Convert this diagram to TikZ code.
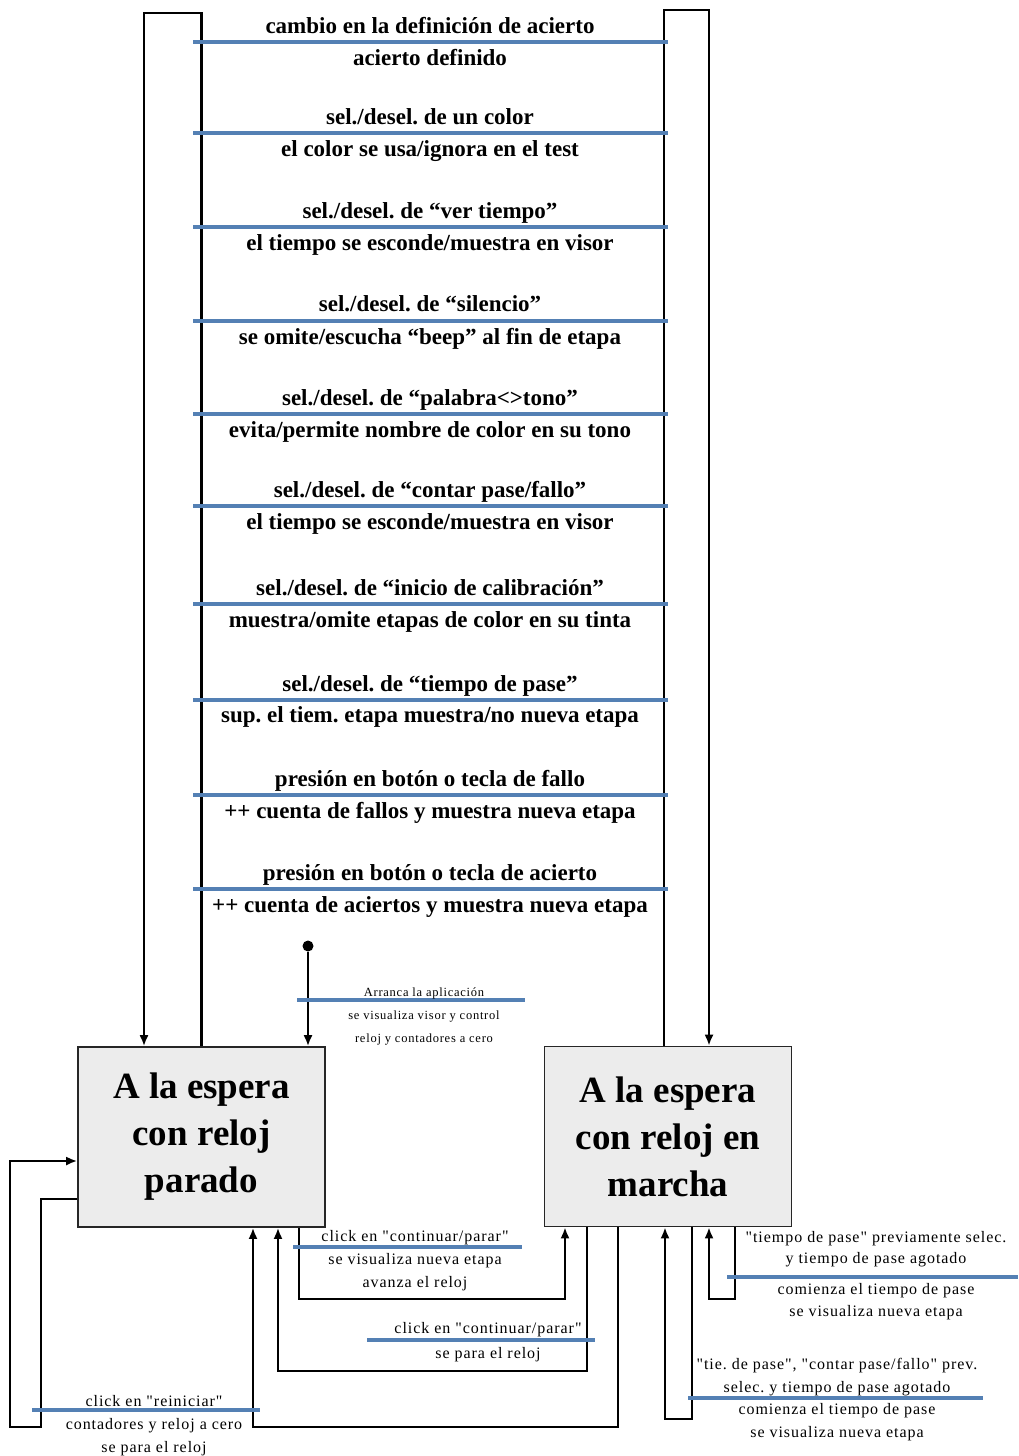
\documentclass[tikz,border=0pt]{standalone}
\usepackage{fontspec}
\setmainfont{Liberation Serif}
\newfontfamily\notafont[LetterSpace=6]{Liberation Serif}
\usetikzlibrary{arrows.meta}
\definecolor{sepblue}{RGB}{84,128,180}
\frenchspacing

\begin{document}
\begin{tikzpicture}[
        x=1pt, y=-1pt, % pixel grid of the original
        estado/.style={rectangle, draw=black!85, line width=1.6pt, fill=gray!15, minimum width=247pt, minimum height=180pt, align=center, font=\fontsize{37}{47}\selectfont\bfseries},
        evento/.style={font=\fontsize{23}{27}\selectfont\bfseries, inner sep=0pt, text height=0.7em, text depth=0.2em},
        nota/.style={align=center, inner sep=0pt, font=\notafont\fontsize{16}{23}\selectfont},
        flecha/.style={draw=black, line width=2.5pt, -{Latex[length=11pt, width=9pt]}},
        sep/.style={draw=sepblue, line width=3.2pt},
        inicio/.style={circle, fill=black, inner sep=0pt, minimum size=11pt}
    ]
    \useasboundingbox (0,0) rectangle (1018,1456);

    % States
    \node[estado] (parado) at (201.5,1137) {A la espera\\con reloj\\parado};
    \node[estado] (marcha) at (668,1136.5) {A la espera\\con reloj en\\marcha};

    % Self loops on top of both states
    \draw[flecha] (parado.north) |- (144,13) -- ([xshift=-57.5pt]parado.north);
    \draw[flecha] ([xshift=-4pt]marcha.north) |- (709,10) -- ([xshift=41pt]marcha.north);

    % Transitions of the top loops
    \node[evento] (ev1) at (430,31) {cambio en la definición de acierto};
    \draw[sep] (193,42) -- (668,42);
    \node[evento] (ac1) at (430,63) {acierto definido};

    \node[evento] (ev2) at (430,122) {sel./desel. de un color};
    \draw[sep] (193,133) -- (668,133);
    \node[evento] (ac2) at (430,154) {el color se usa/ignora en el test};

    \node[evento] (ev3) at (430,216) {sel./desel. de “ver tiempo”};
    \draw[sep] (193,227) -- (668,227);
    \node[evento] (ac3) at (430,248) {el tiempo se esconde/muestra en visor};

    \node[evento] (ev4) at (430,309) {sel./desel. de “silencio”};
    \draw[sep] (193,321) -- (668,321);
    \node[evento] (ac4) at (430,342) {se omite/escucha “beep” al fin de etapa};

    \node[evento] (ev5) at (430,403) {sel./desel. de “palabra<>tono”};
    \draw[sep] (193,414) -- (668,414);
    \node[evento] (ac5) at (430,435) {evita/permite nombre de color en su tono};

    \node[evento] (ev6) at (430,495) {sel./desel. de “contar pase/fallo”};
    \draw[sep] (193,506) -- (668,506);
    \node[evento] (ac6) at (430,527) {el tiempo se esconde/muestra en visor};

    \node[evento] (ev7) at (430,593) {sel./desel. de “inicio de calibración”};
    \draw[sep] (193,604) -- (668,604);
    \node[evento] (ac7) at (430,625) {muestra/omite etapas de color en su tinta};

    \node[evento] (ev8) at (430,689) {sel./desel. de “tiempo de pase”};
    \draw[sep] (193,700) -- (668,700);
    \node[evento] (ac8) at (430,720) {sup. el tiem. etapa muestra/no nueva etapa};

    \node[evento] (ev9) at (430,784) {presión en botón o tecla de fallo};
    \draw[sep] (193,795) -- (668,795);
    \node[evento] (ac9) at (430,816) {++ cuenta de fallos y muestra nueva etapa};

    \node[evento] (ev10) at (430,878) {presión en botón o tecla de acierto};
    \draw[sep] (193,889) -- (668,889);
    \node[evento] (ac10) at (430,910) {++ cuenta de aciertos y muestra nueva etapa};

    % Start of the application
    \node[inicio] (arranque) at (308,946) {};
    \draw[flecha] (arranque) -- (arranque |- parado.north);
    \draw[sep] (297,1000) -- (525,1000);
    \node[nota, font=\notafont\fontsize{12.5}{23}\selectfont] (n0) at (424,1016) {Arranca la aplicación\\se visualiza visor y control\\reloj y contadores a cero};

    % parado -> marcha
    \draw[flecha] ([xshift=97.5pt]parado.south) |- (565,1299) -- ([xshift=-103pt]marcha.south);
    \draw[sep] (293,1247) -- (522,1247);
    \node[nota] (n1) at (415,1261) {click en "continuar/parar"\\se visualiza nueva etapa\\avanza el reloj};

    % marcha -> parado
    \draw[flecha] ([xshift=-81pt]marcha.south) |- (278,1371) -- ([xshift=76.5pt]parado.south);
    \draw[sep] (367,1340) -- (595,1340);
    \node[nota, font=\notafont\fontsize{16}{25}\selectfont] (n2) at (488,1342) {click en "continuar/parar"\\se para el reloj};

    % Reset from both states
    \draw[flecha] ([xshift=-50pt]marcha.south) |- (253,1427) -- ([xshift=51.5pt]parado.south);
    \draw[flecha] ([yshift=-62pt]parado.west) -| (41,1427) -- (10,1427) |- ([yshift=-24pt]parado.west);
    \draw[sep] (32,1410) -- (260,1410);
    \node[nota] (n3) at (154,1426) {click en "reiniciar"\\contadores y reloj a cero\\se para el reloj};

    % Self loops under marcha
    \draw[flecha] ([xshift=67pt]marcha.south) |- (709,1299) -- ([xshift=41pt]marcha.south);
    \draw[sep] (727,1277) -- (1018,1277);
    \node[nota, font=\notafont\fontsize{16}{21}\selectfont] (n4a) at (876,1249) {"tiempo de pase" previamente selec.\\y tiempo de pase agotado};
    \node[nota, font=\notafont\fontsize{16}{22}\selectfont] (n4b) at (876,1302) {comienza el tiempo de pase\\se visualiza nueva etapa};

    \draw[flecha] ([xshift=24pt]marcha.south) |- (665,1419) -- ([xshift=-3pt]marcha.south);
    \draw[sep] (688,1398) -- (983,1398);
    \node[nota, font=\notafont\fontsize{16}{22.5}\selectfont] (n5) at (837,1399.5) {"tie. de pase", "contar pase/fallo" prev.\\selec. y tiempo de pase agotado\\comienza el tiempo de pase\\se visualiza nueva etapa};

\end{tikzpicture}
\end{document}
